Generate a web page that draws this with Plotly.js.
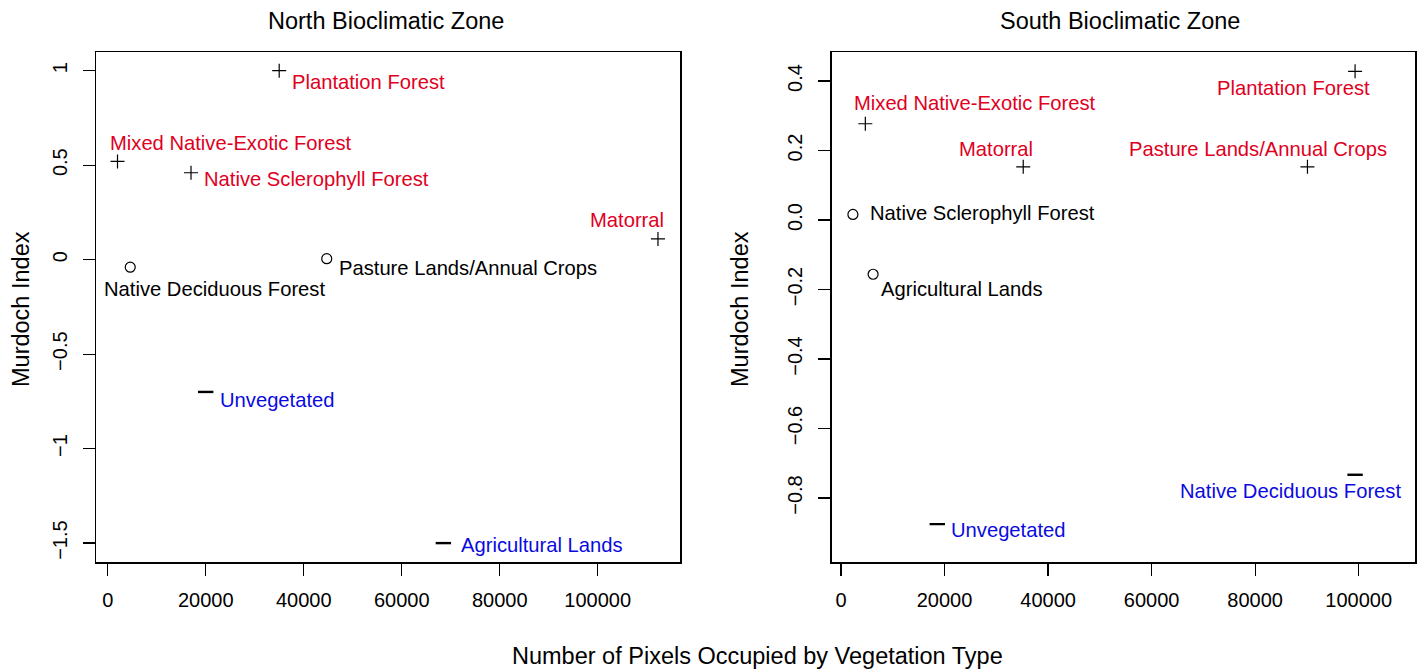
<!DOCTYPE html>
<html>
<head>
<meta charset="utf-8">
<script src="https://cdn.plot.ly/plotly-3.0.1.min.js"></script>
<style>html,body{margin:0;padding:0;background:#fff;}#chart{width:1417px;height:672px;}</style>
</head>
<body>
<div id="chart"></div>
<script>
// ---------- DATA ----------
const northNames = ["Plantation Forest","Mixed Native-Exotic Forest","Native Sclerophyll Forest","Native Deciduous Forest","Pasture Lands/Annual Crops","Matorral","Unvegetated","Agricultural Lands"];
const northPixels = [35000, 2000, 17000, 4600, 44700, 112300, 20000, 68500];
const northIndex  = [1.00, 0.52, 0.46, -0.04, 0.005, 0.11, -0.70, -1.50];
const northType   = ["+","+","+","o","o","+","-","-"];

const southNames = ["Mixed Native-Exotic Forest","Matorral","Native Sclerophyll Forest","Agricultural Lands","Plantation Forest","Pasture Lands/Annual Crops","Native Deciduous Forest","Unvegetated"];
const southPixels = [4700, 35200, 2300, 6200, 99300, 90100, 99300, 18600];
const southIndex  = [0.277, 0.153, 0.016, -0.156, 0.428, 0.153, -0.733, -0.875];
const southType   = ["+","+","o","o","+","+","-","-"];

const xTickVals = [0, 20000, 40000, 60000, 80000, 100000];
const xTickText = ["0","20000","40000","60000","80000","100000"];
const northYTickVals = [-1.5, -1, -0.5, 0, 0.5, 1];
const northYTickText = ["\u22121.5","\u22121","\u22120.5","0","0.5","1"];
const southYTickVals = [-0.8, -0.6, -0.4, -0.2, 0, 0.2, 0.4];
const southYTickText = ["\u22120.8","\u22120.6","\u22120.4","\u22120.2","0.0","0.2","0.4"];

// ---------- STYLE / PLACEMENT ----------
const W = 1417, H = 672;
const FONT = "Liberation Sans, Arial, sans-serif";
const RED = "#E0001E", BLUE = "#0A0AE0";
const symbolOf = {"+":"cross-thin-open","o":"circle-open","-":"line-ew-open"};
const sizeOf = {"+":10,"o":10,"-":11};
const widthOf = {"+":1.2,"o":1.2,"-":2.4};
const colorOf = {"+":RED,"o":"#000000","-":BLUE};

// label placement [anchor, xshift px, yshift px]
const northPlace = [["left",10.6,-11],["center",113,18.4],["left",10.7,-6],["center",84,-21.3],["left",10.6,-9.4],["right",8,19],["left",12,-7.6],["left",15.7,-1.6]];
const southPlace = [["center",110,20.4],["right",12,17.7],["left",14.7,1],["left",6.3,-14.7],["right",17.4,-17],["right",82,17.7],["right",48,-16.3],["left",12,-6]];

function traces(xs, ys, types, xa, ya){
  return ["+","o","-"].map(t => {
    const idx = types.map((v,i)=>v===t?i:-1).filter(i=>i>=0);
    return {
      type:"scatter", mode:"markers", xaxis:xa, yaxis:ya, showlegend:false, hoverinfo:"skip",
      x: idx.map(i=>xs[i]), y: idx.map(i=>ys[i]),
      marker:{symbol:symbolOf[t], size:sizeOf[t], color:"#000", line:{color:"#000", width:widthOf[t]}}
    };
  });
}
function labels(names, xs, ys, types, place, xr, yr){
  return names.map((n,i)=>({
    xref:xr, yref:yr, x:xs[i], y:ys[i], text:n, showarrow:false,
    xanchor:place[i][0], yanchor:"middle", xshift:place[i][1], yshift:place[i][2],
    font:{family:FONT, size:20.2, color:colorOf[types[i]]}
  }));
}

const data = [].concat(
  traces(northPixels, northIndex, northType, "x", "y"),
  traces(southPixels, southIndex, southType, "x2", "y2")
);

const yDom = [1-562/H, 1-52/H];
function xaxis(dom, range){
  return {domain:dom, range:range, showgrid:false, zeroline:false, showline:true, mirror:true,
    linecolor:"#000", linewidth:1.5, ticks:"outside", ticklen:12, tickwidth:1.2, tickcolor:"#000",
    tickmode:"array", tickvals:xTickVals, ticktext:xTickText, ticklabelstandoff:7,
    tickfont:{family:FONT, size:20, color:"#000"}, fixedrange:true};
}
function yaxis(range, tv, tt, anchor){
  return {domain:yDom, range:range, anchor:anchor, showgrid:false, zeroline:false, showline:true, mirror:true,
    linecolor:"#000", linewidth:1.5, ticks:"outside", ticklen:12, tickwidth:1.2, tickcolor:"#000",
    tickmode:"array", tickvals:tv, ticktext:tt, tickangle:-90, ticklabelstandoff:8,
    tickfont:{family:FONT, size:20, color:"#000"}, fixedrange:true};
}

const titleFont = {family:FONT, size:23.5, color:"#000"};
const layout = {
  width:W, height:H, margin:{l:0,r:0,t:0,b:0}, paper_bgcolor:"#fff", plot_bgcolor:"#fff",
  xaxis: Object.assign(xaxis([96/W, 680/W], [-2388, 116796]), {anchor:"y"}),
  yaxis: yaxis([-1.6, 1.099], northYTickVals, northYTickText, "x"),
  xaxis2: Object.assign(xaxis([831.7/W, 1415/W], [-1796, 110875]), {anchor:"y2"}),
  yaxis2: yaxis([-0.984, 0.4835], southYTickVals, southYTickText, "x2"),
  annotations: [].concat(
    labels(northNames, northPixels, northIndex, northType, northPlace, "x", "y"),
    labels(southNames, southPixels, southIndex, southType, southPlace, "x2", "y2"),
    [
      {xref:"paper", yref:"paper", x:386/W, y:1-21/H, text:"North Bioclimatic Zone", showarrow:false, xanchor:"center", yanchor:"middle", font:titleFont},
      {xref:"paper", yref:"paper", x:1120/W, y:1-21/H, text:"South Bioclimatic Zone", showarrow:false, xanchor:"center", yanchor:"middle", font:titleFont},
      {xref:"paper", yref:"paper", x:757/W, y:1-656/H, text:"Number of Pixels Occupied by Vegetation Type", showarrow:false, xanchor:"center", yanchor:"middle", font:titleFont},
      {xref:"paper", yref:"paper", x:21/W, y:1-309/H, text:"Murdoch Index", textangle:-90, showarrow:false, xanchor:"center", yanchor:"middle", font:titleFont},
      {xref:"paper", yref:"paper", x:740/W, y:1-309/H, text:"Murdoch Index", textangle:-90, showarrow:false, xanchor:"center", yanchor:"middle", font:titleFont}
    ]
  )
};

Plotly.newPlot("chart", data, layout, {displayModeBar:false, staticPlot:true});
</script>
</body>
</html>
